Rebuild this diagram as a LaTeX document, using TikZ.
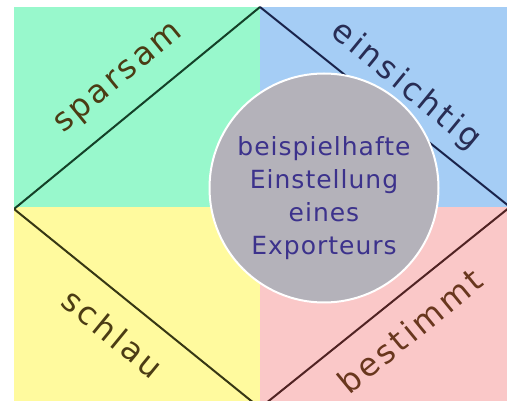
\documentclass[tikz,border=0pt]{standalone}
\usepackage{fontspec}
\newfontfamily\labfont[LetterSpace=10]{DejaVu Sans}
\newfontfamily\midfont[LetterSpace=4]{DejaVu Sans}
\definecolor{qgreen}{RGB}{152,248,204}
\definecolor{qblue}{RGB}{165,205,245}
\definecolor{qyellow}{RGB}{255,250,158}
\definecolor{qpink}{RGB}{250,200,200}
\definecolor{cgray}{RGB}{180,178,186}
\definecolor{ctext}{RGB}{60,50,140}
\definecolor{lgreen}{RGB}{20,65,40}
\definecolor{lblue}{RGB}{25,35,75}
\definecolor{lolive}{RGB}{55,55,20}
\definecolor{lbrown}{RGB}{80,35,35}
\definecolor{tolive}{RGB}{75,60,20}
\definecolor{tnavy}{RGB}{40,45,85}
\definecolor{tbrown}{RGB}{105,55,30}
\tikzset{
  edge/.style={line width=2pt},
  lab/.style={font=\labfont\fontsize{32}{38}\selectfont, inner sep=0pt},
}
\begin{document}
\begin{tikzpicture}[x=1pt,y=-1pt]
\useasboundingbox (0,0) rectangle (507,401);
\fill[white] (0,0) rectangle (507,401);
\fill[qgreen] (14,7) rectangle (260,207);
\fill[qblue] (260,7) rectangle (507,207);
\fill[qyellow] (14,207) rectangle (260,401);
\fill[qpink] (260,207) rectangle (507,401);
\coordinate (T) at (260,7);
\coordinate (L) at (14,209);
\coordinate (B) at (260,408);
\coordinate (R) at (510,207);
\begin{scope}
\clip (14,7) rectangle (507,401);
\draw[edge, lgreen] (L) -- (T);
\draw[edge, lblue] (T) -- (R);
\draw[edge, lolive] (L) -- (B);
\draw[edge, lbrown] (B) -- (R);
\end{scope}
\node[circle, fill=cgray, draw=white, line width=2pt, minimum size=229pt, inner sep=0pt] (circ) at (324,188) {};
\node[font=\midfont\fontsize{25}{33}\selectfont, text=ctext, align=center, inner sep=0pt] (mid) at (324,198) {beispielhafte\\Einstellung\\eines\\Exporteurs};
\node[lab, text=tolive, rotate=39.4] (sp) at (120,80) {sparsam};
\node[lab, text=tnavy, rotate=-39.4] (ei) at (406,86) {einsichtig};
\node[lab, text=tolive, rotate=-39.4] (sc) at (113,333) {schlau};
\node[lab, text=tbrown, rotate=39.4] (be) at (410,331) {bestimmt};
\end{tikzpicture}
\end{document}
